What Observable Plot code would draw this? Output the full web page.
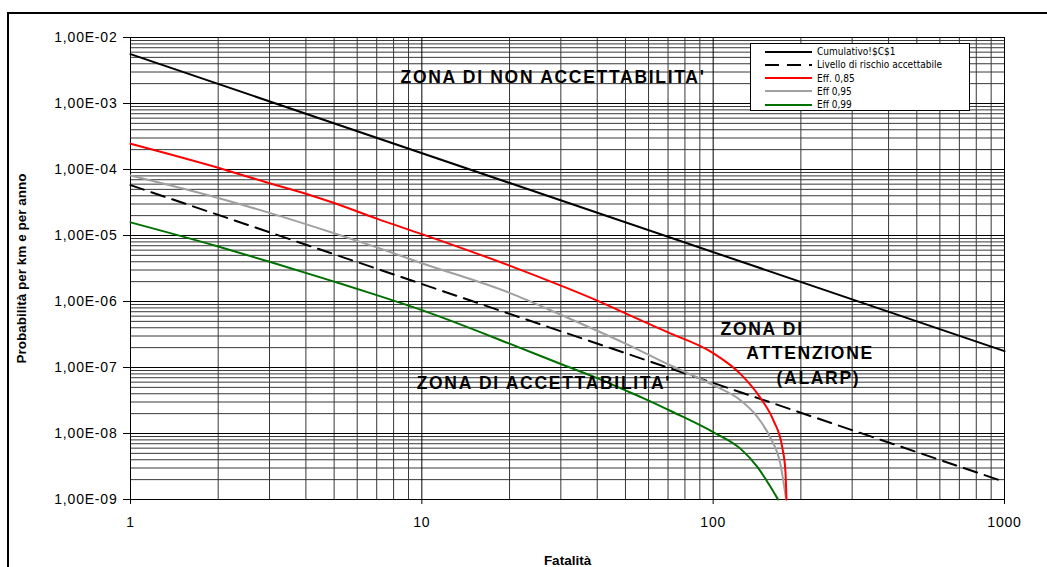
<!DOCTYPE html>
<html><head><meta charset="utf-8">
<script src="https://cdn.jsdelivr.net/npm/d3@7"></script>
<script src="https://cdn.jsdelivr.net/npm/@observablehq/plot@0.6"></script>
<style>
html,body{margin:0;padding:0;background:#fff;overflow:hidden;}
#wrap{position:relative;width:1047px;height:567px;overflow:hidden;}
#frame{position:absolute;left:7px;top:12px;width:1100px;height:620px;border:2px solid #000;box-sizing:border-box;}
#chart{position:absolute;left:0;top:0;}
#legend{position:absolute;left:750px;top:43px;width:220px;height:68px;background:#fff;border:1px solid #000;box-sizing:border-box;}
#legend .row{position:absolute;left:14px;height:13px;display:flex;align-items:center;font-family:"Liberation Sans Narrow","DejaVu Sans Condensed","Liberation Sans",sans-serif;font-stretch:condensed;font-size:10px;color:#000;white-space:nowrap;}
#legend svg{margin-right:5px;}
</style></head>
<body>
<div id="wrap"><div id="frame"></div><div id="chart"></div><div id="legend"></div></div>
<script>
// ---- data ----
const seriesNames = ["Cumulativo!$C$1", "Livello di rischio accettabile", "Eff. 0,85", "Eff 0,95", "Eff 0,99"];
const seriesColors = ["#000000", "#000000", "#ff0000", "#a0a0a0", "#007000"];
const seriesDash = [null, "14,8", null, null, null];

const cumulN = [1, 1000];
const cumulP = [5.6e-3, 1.77e-7];

const levelN = [1, 1000];
const levelP = [5.8e-5, 1.85e-9];

const eff85N = [1, 2, 3, 4, 5, 7, 10, 20, 30, 40, 50, 70, 100, 124, 145, 161, 172.6, 177, 178.5];
const eff85P = [2.45e-4, 1.06e-4, 6.2e-5, 4.3e-5, 3.1e-5, 1.8e-5, 1.05e-5, 3.5e-6, 1.74e-6, 1.03e-6, 6.6e-7, 3.4e-7, 1.65e-7, 8e-8, 3.5e-8, 1.58e-8, 6.2e-9, 2.7e-9, 1e-9];

const eff95N = [1, 2, 3, 5, 7, 10, 20, 30, 40, 50, 70, 100, 124, 142, 157, 170, 178];
const eff95P = [8.1e-5, 3.7e-5, 2.2e-5, 1.08e-5, 6.6e-6, 3.8e-6, 1.35e-6, 6.3e-7, 3.6e-7, 2.3e-7, 1.12e-7, 5.4e-8, 3.2e-8, 1.77e-8, 8.7e-9, 3.5e-9, 1e-9];

const eff99N = [1, 2, 3, 5, 7, 10, 20, 30, 40, 50, 57, 73, 100, 124, 142, 155, 167];
const eff99P = [1.58e-5, 6.8e-6, 4.0e-6, 2.0e-6, 1.25e-6, 7.4e-7, 2.3e-7, 1.13e-7, 6.9e-8, 4.5e-8, 3.5e-8, 2.1e-8, 1.05e-8, 5.9e-9, 3.1e-9, 1.73e-9, 1e-9];

const xTicks = [1, 10, 100, 1000];
const xTickLabels = ["1", "10", "100", "1000"];
const yTicks = [1e-2, 1e-3, 1e-4, 1e-5, 1e-6, 1e-7, 1e-8, 1e-9];
const yTickLabels = ["1,00E-02", "1,00E-03", "1,00E-04", "1,00E-05", "1,00E-06", "1,00E-07", "1,00E-08", "1,00E-09"];

const xTitle = "Fatalità";
const yTitle = "Probabilità per km e per anno";
const zoneTexts = ["ZONA DI NON ACCETTABILITA'", "ZONA DI ACCETTABILITA'", "ZONA DI", "ATTENZIONE", "(ALARP)"];

// ---- build ----
const toRows = (N, P) => N.map((n, i) => ({n, p: P[i]}));
const xMinor = d3.scaleLog().domain([1, 1000]).ticks().filter(t => !xTicks.includes(t));
const yMinor = d3.scaleLog().domain([1e-9, 1e-2]).ticks().filter(t => !yTicks.some(v => Math.abs(v - t) / v < 1e-9));

const lineMark = (N, P, k) => Plot.line(toRows(N, P), {
  x: "n", y: "p", stroke: seriesColors[k], strokeWidth: 2, curve: "monotone-x",
  strokeDasharray: seriesDash[k] || undefined, strokeLinejoin: "round"
});

const font = "'Liberation Sans', Arial, sans-serif";
const zone = (i, x, y) => Plot.text([zoneTexts[i]], {x: x, y: y, text: d => d, textAnchor: "start", fontWeight: "bold", fontSize: 17.5});

const plot = Plot.plot({
  width: 1047, height: 567,
  marginLeft: 130, marginRight: 43, marginTop: 37, marginBottom: 68,
  style: {fontFamily: font, fontSize: "14px", background: "transparent", color: "#000", overflow: "visible"},
  x: {type: "log", domain: [1, 1000]},
  y: {type: "log", domain: [1e-9, 1e-2]},
  marks: [
    Plot.ruleX(xMinor, {stroke: "#383838", strokeWidth: 1}),
    Plot.ruleY(yMinor, {stroke: "#383838", strokeWidth: 1}),
    Plot.ruleX(xTicks, {stroke: "#000", strokeWidth: 1}),
    Plot.ruleY(yTicks, {stroke: "#000", strokeWidth: 1}),
    Plot.axisY({ticks: yTicks, tickFormat: d => yTickLabels[yTicks.indexOf(d)], tickSize: 7, tickPadding: 6, label: null, fontSize: 14}),
    Plot.axisX({ticks: xTicks, tickFormat: d => xTickLabels[xTicks.indexOf(d)], tickSize: 5, tickPadding: 13, label: null, fontSize: 14}),
    lineMark(levelN, levelP, 1),
    lineMark(eff99N, eff99P, 4),
    lineMark(eff95N, eff95P, 3),
    lineMark(eff85N, eff85P, 2),
    lineMark(cumulN, cumulP, 0),
    zone(0, 8.45, 2.5e-3),
    zone(1, 9.6, 5.66e-8),
    zone(2, 106, 3.72e-7),
    zone(3, 130, 1.65e-7),
    zone(4, 165, 6.9e-8),
    Plot.text([yTitle], {frameAnchor: "left", dx: -109, rotate: -90, textAnchor: "middle", text: d => d, fontWeight: "bold", fontSize: 13.5}),
    Plot.text([xTitle], {frameAnchor: "bottom", dy: 65, text: d => d, fontWeight: "bold", fontSize: 13.5})
  ]
});
d3.select(plot).selectAll("text").filter(function() { return zoneTexts.includes(this.textContent); }).style("letter-spacing", "1.7px");
d3.select(plot).selectAll("g[aria-label='y-axis tick label'] text, g[aria-label='x-axis tick label'] text").style("letter-spacing", "0.8px");
document.getElementById("chart").appendChild(plot);

// legend
const leg = document.getElementById("legend");
seriesNames.forEach((name, k) => {
  const row = document.createElement("div");
  row.className = "row";
  row.style.top = (1 + k * 13.3) + "px";
  const dash = seriesDash[k] ? `stroke-dasharray="${seriesDash[k]}"` : "";
  row.innerHTML = `<svg width="47" height="4"><line x1="0" x2="47" y1="2" y2="2" stroke="${seriesColors[k]}" stroke-width="2" ${dash}/></svg><span>${name}</span>`;
  leg.appendChild(row);
});
</script>
</body></html>
